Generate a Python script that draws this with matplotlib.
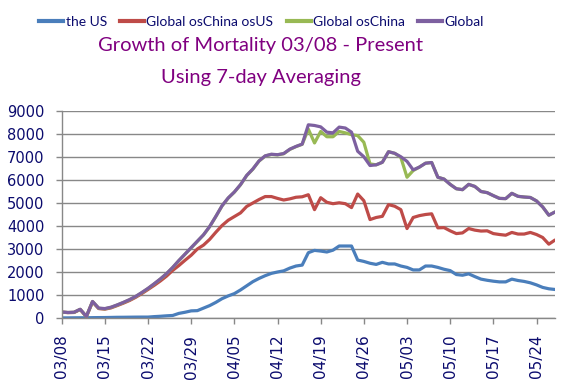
import matplotlib
matplotlib.use("Agg")
import matplotlib.pyplot as plt
from matplotlib.lines import Line2D

# ---- data ----
tick_labels = ["03/08", "03/15", "03/22", "03/29", "04/05", "04/12",
               "04/19", "04/26", "05/03", "05/10", "05/17", "05/24"]

us = [5, 5, 8, 10, 10, 15, 18, 20, 25, 30, 32, 35, 38, 40,
      40, 60, 75, 95, 110, 200, 250, 310, 320, 430, 540, 680, 840, 960,
      1060, 1220, 1400, 1580, 1720, 1840, 1940, 2000, 2050, 2170, 2260, 2300,
      2840, 2940, 2910, 2870, 2950, 3130, 3130, 3130, 2520, 2460, 2380, 2330,
      2420, 2350, 2350, 2260, 2200, 2090, 2090, 2260, 2260, 2200, 2120, 2060,
      1890, 1860, 1920, 1800, 1690, 1640, 1600, 1570, 1570, 1690, 1630, 1590,
      1530, 1440, 1330, 1270, 1240]

global_oschina_osus = [255, 235, 240, 370, 60, 700, 410, 385, 440, 540, 645, 760,
      900, 1065, 1240, 1420, 1610, 1820, 2070, 2280, 2510, 2730, 3000, 3170,
      3420, 3730, 4020, 4250, 4410, 4570, 4850, 5000, 5150, 5280, 5280, 5200,
      5130, 5180, 5250, 5270,
      5360, 4710, 5230, 5030, 4970, 5010, 4970, 4800, 5390, 5100, 4280, 4370,
      4420, 4930, 4860, 4710, 3890, 4370, 4450, 4500, 4530, 3920, 3930, 3790,
      3670, 3700, 3890, 3820, 3780, 3790, 3670, 3630, 3600, 3720, 3650, 3650,
      3720, 3630, 3500, 3210, 3390]

global_oschina = [255, 238, 245, 375, 65, 712, 422, 400, 462, 562, 672, 792,
      932, 1102, 1282, 1482, 1692, 1922, 2192, 2492, 2772, 3052, 3332, 3612,
      3972, 4412, 4872, 5212, 5472, 5792, 6192, 6472, 6822, 7042, 7112, 7092,
      7142, 7332, 7452, 7552,
      8210, 7610, 8110, 7880, 7880, 8110, 8050, 7970, 7930, 7640, 6700, 6660,
      6770, 7230, 7160, 6980, 6120, 6410, 6560, 6730, 6760, 6120, 6040, 5810,
      5620, 5580, 5810, 5720, 5500, 5450, 5320, 5200, 5190, 5420, 5290, 5260,
      5240, 5090, 4830, 4470, 4610]

global_total = [260, 240, 250, 380, 70, 720, 430, 410, 470, 570, 680, 800,
      940, 1110, 1290, 1490, 1700, 1930, 2200, 2500, 2780, 3060, 3340, 3620,
      3980, 4420, 4880, 5220, 5480, 5800, 6200, 6480, 6830, 7050, 7120, 7100,
      7150, 7340, 7460, 7560,
      8400, 8370, 8310, 8080, 8050, 8300, 8260, 8080, 7250, 7010, 6630, 6660,
      6770, 7230, 7160, 7010, 6810, 6440, 6560, 6730, 6760, 6120, 6040, 5810,
      5620, 5580, 5810, 5720, 5500, 5450, 5320, 5200, 5190, 5420, 5290, 5260,
      5240, 5090, 4830, 4470, 4610]

series_names = ["the US", "Global osChina osUS", "Global osChina", "Global"]
colors = ["#4A7EBB", "#BE4B48", "#98B954", "#7D60A0"]

# ---- figure ----
W, H = 580, 389
fig = plt.figure(figsize=(W / 100, H / 100), dpi=100)
ax = fig.add_axes([61.7 / W, 1 - 318 / H, (555 - 61.7) / W, (318 - 111) / H])

x = list(range(len(global_total)))
all_series = [us, global_oschina_osus, global_oschina, global_total]
for vals, c in zip(all_series, colors):
    ax.plot(x, vals, color=c, lw=2.3, solid_joinstyle="round", solid_capstyle="round")

ax.set_xlim(0, len(global_total) - 1)
ax.set_ylim(0, 9000)
ax.set_yticks(range(0, 9001, 1000))
ax.set_xticks(range(0, 7 * len(tick_labels), 7))
ax.set_xticklabels(tick_labels, rotation=90)

lab_color = "#0B0B6E"
for lab in ax.get_yticklabels():
    lab.set_color(lab_color)
    lab.set_fontfamily("DejaVu Sans")
    lab.set_fontsize(10.5)
for lab in ax.get_xticklabels():
    lab.set_color(lab_color)
    lab.set_fontfamily("DejaVu Sans")
    lab.set_fontsize(11)

grid_c = "#888888"
ax.grid(axis="y", color=grid_c, lw=1.0)
ax.set_axisbelow(True)
for s in ["top", "right"]:
    ax.spines[s].set_visible(False)
for s in ["left", "bottom"]:
    ax.spines[s].set_color(grid_c)
    ax.spines[s].set_linewidth(1.0)
ax.tick_params(axis="both", direction="out", length=4, color=grid_c, width=1.0)
ax.tick_params(axis="y", pad=8.5)
ax.tick_params(axis="x", pad=8)

# ---- title ----
fig.text(261 / W, 1 - 45 / H, "Growth of Mortality 03/08 - Present", ha="center", va="center",
         fontsize=14.5, color="#800080", family="Lato")
fig.text(261 / W, 1 - 78 / H, "Using 7-day Averaging", ha="center", va="center",
         fontsize=14.5, color="#800080", family="Lato")

# ---- legend ----
handles = [Line2D([0], [0], color=c, lw=3) for c in colors]
leg = fig.legend(handles, series_names, loc="center", bbox_to_anchor=(261.5 / W, 1 - 22 / H),
                 ncol=4, frameon=False, handlelength=1.75, handletextpad=0.15,
                 columnspacing=0.95, prop={"family": "Lato", "size": 10})
for t in leg.get_texts():
    t.set_color("#0B0B6E")

fig.savefig("out.png", dpi=100)
